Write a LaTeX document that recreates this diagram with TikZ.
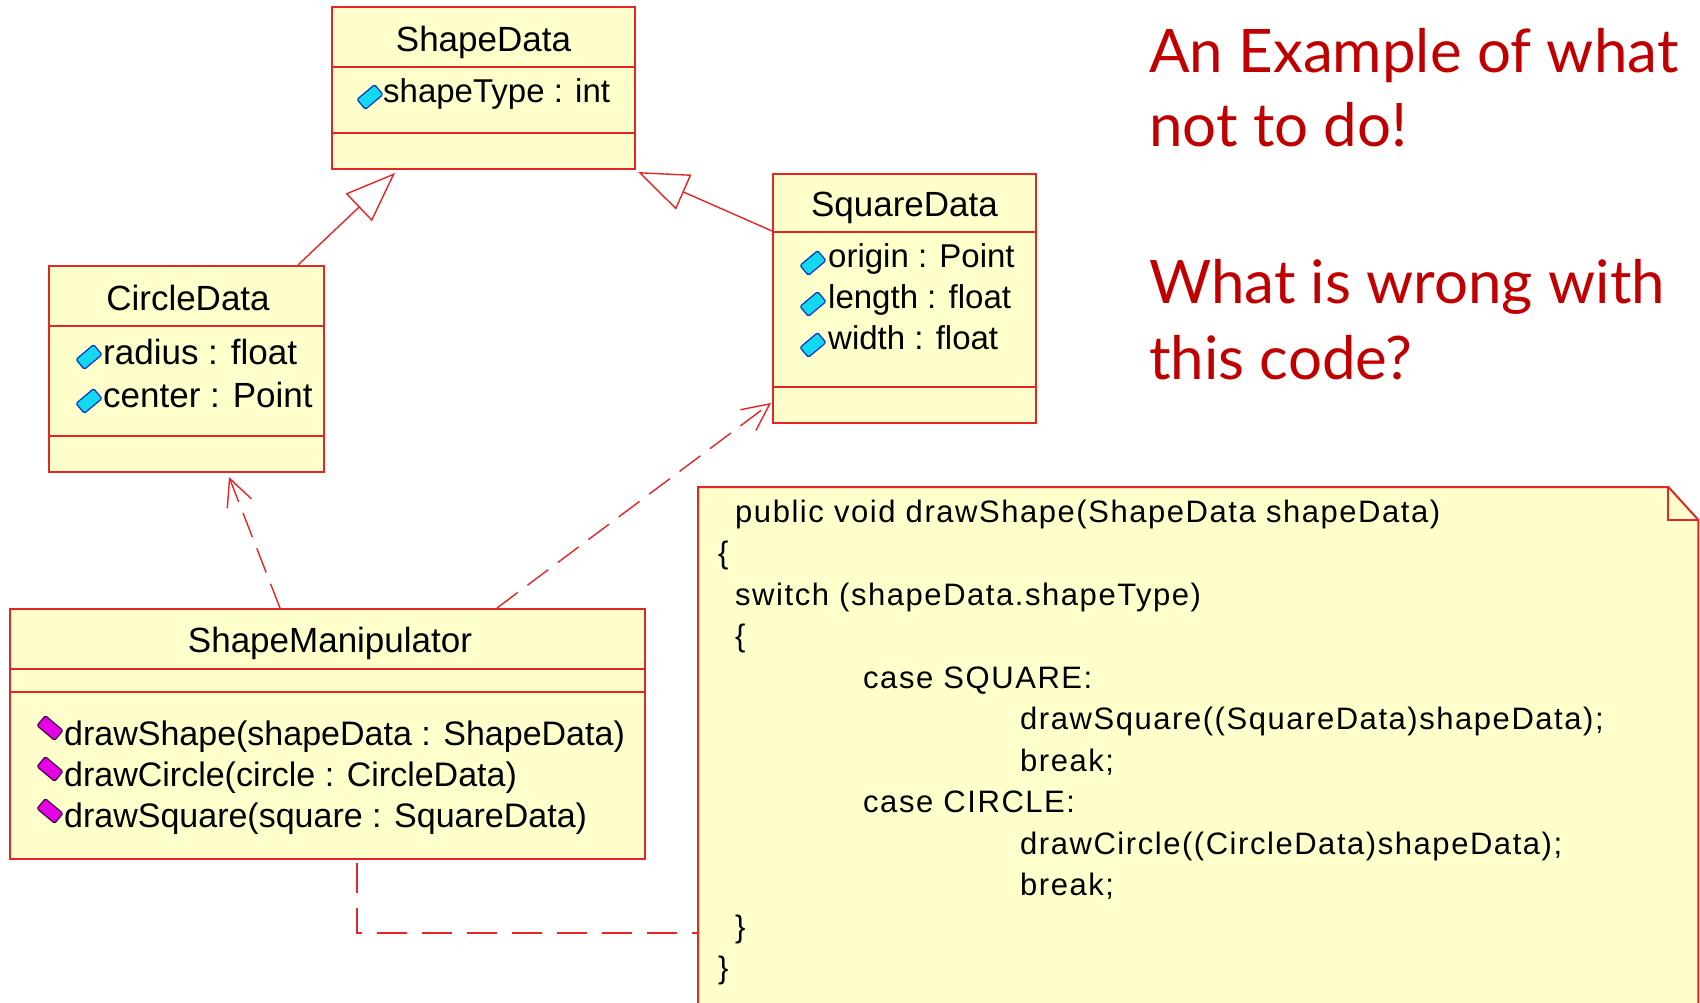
\documentclass[tikz,border=0pt]{standalone}
\usepackage{fontspec}
\setmainfont{Liberation Sans}
\newfontfamily\redfont{Lato}
\newfontfamily\codefont[LetterSpace=5]{Liberation Sans}
\usetikzlibrary{arrows.meta,calc}
\definecolor{umlred}{RGB}{228,38,38}
\definecolor{umlfill}{RGB}{255,255,204}
\definecolor{titlered}{RGB}{192,0,0}
\definecolor{attrcyan}{RGB}{20,215,240}
\definecolor{attrblue}{RGB}{10,50,200}
\definecolor{opmag}{RGB}{230,0,230}
\definecolor{opdark}{RGB}{70,0,70}
\begin{document}
\begin{tikzpicture}[x=1pt,y=-1pt,
  classbox/.style={draw=umlred,fill=umlfill,line width=2pt,inner sep=0pt},
  divider/.style={draw=umlred,line width=2pt},
  titletext/.style={font=\fontsize{35}{40}\selectfont,inner sep=0pt,anchor=base},
  membertext/.style={font=\fontsize{33}{38}\selectfont,inner sep=0pt,anchor=base west},
  attricon/.style={rectangle,rounded corners=1.5pt,draw=attrblue,fill=attrcyan,line width=1.2pt,minimum width=23pt,minimum height=13pt,inner sep=0pt,rotate=40},
  opicon/.style={rectangle,rounded corners=1.5pt,draw=opdark,fill=opmag,line width=1.2pt,minimum width=23pt,minimum height=13pt,inner sep=0pt,rotate=-40},
  inherit/.style={draw=umlred,line width=1.4pt,-{Triangle[open,length=50pt,width=38pt]}},
  depend/.style={draw=umlred,line width=1.4pt,dash pattern=on 26pt off 12pt,-{Straight Barb[length=27pt,width=26pt]}},
  notelink/.style={draw=umlred,line width=1.4pt,dash pattern=on 30pt off 15pt},
  notebox/.style={draw=umlred,fill=umlfill,line width=2pt},
  codetext/.style={font=\codefont\fontsize{31}{36}\selectfont,inner sep=0pt,anchor=base west},
  redtext/.style={font=\redfont\fontsize{60}{70}\selectfont,text=titlered,inner sep=0pt,anchor=base west}]
\useasboundingbox (0,0) rectangle (1700,1003);
\fill[white] (0,0) rectangle (1700,1003);

% ShapeData
\node[classbox,minimum width=303pt,minimum height=162pt] (sd) at (483.5,88) {};
\draw[divider] (sd.west |- 0,67) -- (sd.east |- 0,67);
\draw[divider] (sd.west |- 0,133) -- (sd.east |- 0,133);
\node[titletext] (sdt) at (483.5,52) {ShapeData};
\node[attricon] (sdi1) at (370,97) {};
\node[membertext] (sda1) at (383,103) {shapeType : int};

% CircleData
\node[classbox,minimum width=275pt,minimum height=206pt] (cd) at (186.5,369) {};
\draw[divider] (cd.west |- 0,326) -- (cd.east |- 0,326);
\draw[divider] (cd.west |- 0,436) -- (cd.east |- 0,436);
\node[titletext] (cdt) at (188,310) {CircleData};
\node[attricon] (cdi1) at (89,357) {};
\node[attricon] (cdi2) at (89,401) {};
\node[membertext,font=\fontsize{35}{40}\selectfont] (cda1) at (103,364) {radius : float};
\node[membertext,font=\fontsize{35}{40}\selectfont] (cda2) at (103,407) {center : Point};

% SquareData
\node[classbox,minimum width=263pt,minimum height=249pt] (sq) at (904.5,298.5) {};
\draw[divider] (sq.west |- 0,232) -- (sq.east |- 0,232);
\draw[divider] (sq.west |- 0,387) -- (sq.east |- 0,387);
\node[titletext] (sqt) at (904.5,217) {SquareData};
\node[attricon] (sqi1) at (813,263) {};
\node[attricon] (sqi2) at (813,304) {};
\node[attricon] (sqi3) at (813,345) {};
\node[membertext] (sqa1) at (828,267) {origin : Point};
\node[membertext] (sqa2) at (828,308) {length : float};
\node[membertext] (sqa3) at (828,349) {width : float};

% ShapeManipulator
\node[classbox,minimum width=635pt,minimum height=250pt] (sm) at (327.5,734) {};
\draw[divider] (sm.west |- 0,669) -- (sm.east |- 0,669);
\draw[divider] (sm.west |- 0,692) -- (sm.east |- 0,692);
\node[titletext] (smt) at (330,652) {ShapeManipulator};
\node[opicon] (smi1) at (50,728) {};
\node[opicon] (smi2) at (50,769) {};
\node[opicon] (smi3) at (50,811) {};
\node[membertext,font=\fontsize{34}{38}\selectfont] (smo1) at (64,745) {drawShape(shapeData : ShapeData)};
\node[membertext,font=\fontsize{34}{38}\selectfont] (smo2) at (64,786) {drawCircle(circle : CircleData)};
\node[membertext,font=\fontsize{34}{38}\selectfont] (smo3) at (64,827) {drawSquare(square : SquareData)};

% Note
\node[minimum width=1000pt,minimum height=530pt,inner sep=0pt,anchor=north west] (note) at (698,487) {};
\draw[notebox] (note.north west) -- ([xshift=-30pt]note.north east) -- ([yshift=-33pt]note.north east) -- (note.south east) -- (note.south west) -- cycle;
\draw[notebox,fill=none] ([xshift=-30pt]note.north east) |- ([yshift=-33pt]note.north east);
\node[codetext] (c1) at (735,522) {public void drawShape(ShapeData shapeData)};
\node[codetext] (c2) at (718,563.5) {\{};
\node[codetext] (c3) at (735,605) {switch (shapeData.shapeType)};
\node[codetext] (c4) at (735,646.5) {\{};
\node[codetext] (c5) at (863,688) {case SQUARE:};
\node[codetext] (c6) at (1020,729.5) {drawSquare((SquareData)shapeData);};
\node[codetext] (c7) at (1020,771) {break;};
\node[codetext] (c8) at (863,812.5) {case CIRCLE:};
\node[codetext] (c9) at (1020,854) {drawCircle((CircleData)shapeData);};
\node[codetext] (c10) at (1020,895.5) {break;};
\node[codetext] (c11) at (735,937) {\}};
\node[codetext] (c12) at (718,978.5) {\}};

% Connectors
\draw[inherit] ([xshift=111.5pt]cd.north) -- ([xshift=-88.5pt,yshift=-3pt]sd.south);
\draw[inherit] ([yshift=-58pt]sq.north west) -- ([xshift=2pt,yshift=-2pt]sd.south east);
\draw[depend] ([xshift=-47.5pt]sm.north) -- ([xshift=42.5pt,yshift=-4pt]cd.south);
\draw[depend] ([xshift=169.5pt]sm.north) -- ([xshift=-1pt,yshift=21pt]sq.south west);
\coordinate (notein) at (698,933);
\draw[notelink] ([xshift=29.5pt,yshift=-3pt]sm.south) |- (notein);

% Red text
\node[redtext] (r1) at (1149,73) {An Example of what};
\node[redtext] (r2) at (1149,147) {not to do!};
\node[redtext] (r3) at (1149,303) {What is wrong with};
\node[redtext] (r4) at (1149,379) {this code?};
\end{tikzpicture}
\end{document}
